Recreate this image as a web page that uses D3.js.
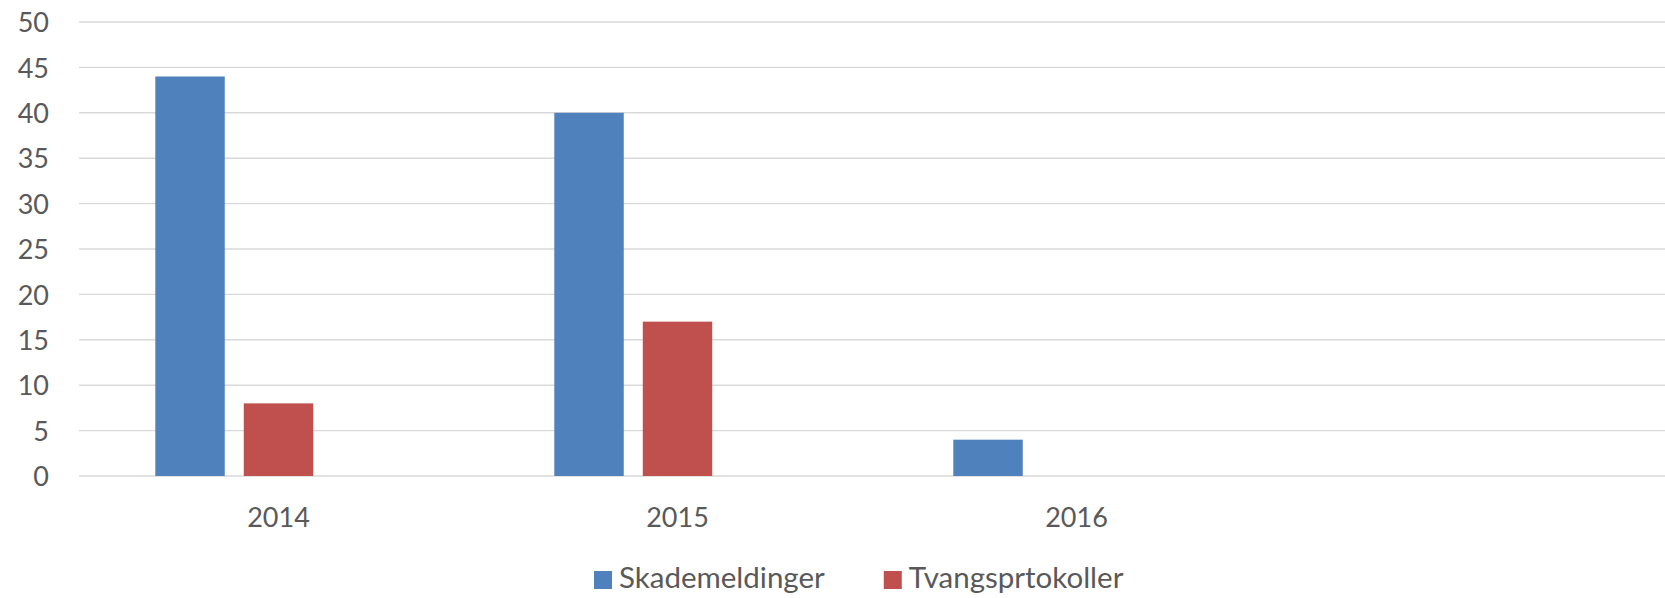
<!DOCTYPE html>
<html>
<head>
<meta charset="utf-8">
<script src="https://cdn.jsdelivr.net/npm/d3@7"></script>
<style>
  html, body { margin: 0; padding: 0; background: #fff; overflow: hidden; }
  text { font-family: Lato, "Open Sans", sans-serif; fill: #595959; }
</style>
</head>
<body>
<svg id="chart" width="1665" height="598"></svg>
<script>
// data
var categories = ["2014", "2015", "2016", ""];
var seriesNames = ["Skademeldinger", "Tvangsprtokoller", "Serie3"];
var skademeldinger = [44, 40, 4, null];
var tvangsprtokoller = [8, 17, 0, null];
var serie3 = [null, null, null, null];   // empty slot, not in legend
var yTicks = [0, 5, 10, 15, 20, 25, 30, 35, 40, 45, 50];
var colors = ["#4f81bd", "#c0504d", "#9bbb59"];
var legendSeries = ["Skademeldinger", "Tvangsprtokoller"];

var seriesValues = [skademeldinger, tvangsprtokoller, serie3];

var svg = d3.select("#chart"),
    plotLeft = 79,
    plotTop = 22,
    plotBottom = 476,
    plotWidth = 1596;

var x0 = d3.scaleBand()
    .domain(categories)
    .range([plotLeft, plotLeft + plotWidth]);

var x1 = d3.scaleBand()
    .domain(seriesNames)
    .range([76.3, x0.bandwidth() - 76.3])
    .paddingInner(0.215);

var y = d3.scaleLinear()
    .domain([0, 50])
    .range([plotBottom, plotTop]);

// gridlines
svg.append("g")
    .selectAll("line")
    .data(yTicks)
    .enter().append("line")
    .attr("x1", plotLeft)
    .attr("x2", plotLeft + plotWidth)
    .attr("y1", function(d) { return y(d); })
    .attr("y2", function(d) { return y(d); })
    .attr("stroke", "#d9d9d9")
    .attr("stroke-width", 1.4);

// y axis labels
var yAxis = d3.axisLeft(y).tickValues(yTicks).tickSize(0).tickPadding(0);
var yg = svg.append("g")
    .attr("transform", "translate(49,0)")
    .call(yAxis);
yg.select(".domain").remove();
yg.selectAll("text")
    .attr("font-size", 27)
    .attr("dy", "0.36em");

// bars
var rows = [];
categories.forEach(function(c, i) {
    seriesNames.forEach(function(s, j) {
        if (seriesValues[j][i] != null) rows.push({cat: c, series: s, value: seriesValues[j][i], idx: j});
    });
});

svg.append("g")
    .selectAll("rect")
    .data(rows)
    .enter().append("rect")
    .attr("x", function(d) { return x0(d.cat) + x1(d.series); })
    .attr("width", x1.bandwidth())
    .attr("y", function(d) { return y(d.value); })
    .attr("height", function(d) { return plotBottom - y(d.value); })
    .attr("fill", function(d) { return colors[d.idx]; });

// x axis labels
var xAxis = d3.axisBottom(x0).tickSize(0).tickPadding(0);
var xg = svg.append("g")
    .attr("transform", "translate(0," + plotBottom + ")")
    .call(xAxis);
xg.select(".domain").remove();
xg.selectAll("text")
    .attr("font-size", 27)
    .attr("y", 51)
    .attr("dy", 0);

// legend
var legend = svg.append("g");
var lx = 594;
legendSeries.forEach(function(name, i) {
    var item = legend.append("g").attr("transform", "translate(" + lx + ",0)");
    item.append("rect")
        .attr("x", 0).attr("y", 571)
        .attr("width", 18).attr("height", 18)
        .attr("fill", colors[seriesNames.indexOf(name)]);
    var t = item.append("text")
        .attr("x", 25).attr("y", 588)
        .attr("font-size", 29.5)
        .text(name);
    lx += 25 + t.node().getComputedTextLength() + 59;
});
</script>
</body>
</html>
